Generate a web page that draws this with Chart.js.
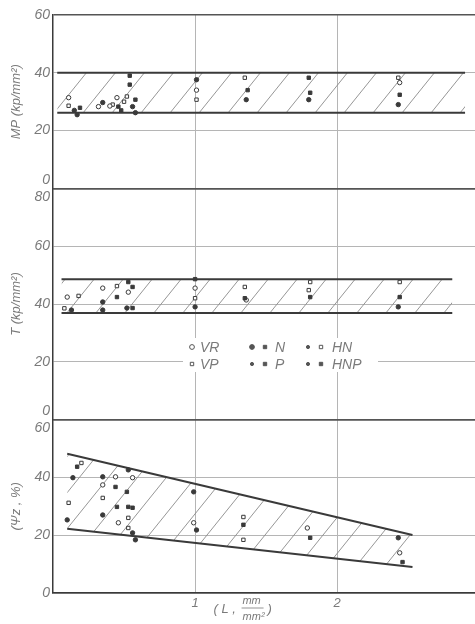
<!DOCTYPE html>
<html>
<head>
<meta charset="utf-8">
<script src="https://cdn.jsdelivr.net/npm/chart.js@4.4.0/dist/chart.umd.min.js"></script>
<style>
  html, body { margin: 0; padding: 0; background: #fff; }
</style>
</head>
<body>
<canvas id="chart" width="475" height="624"></canvas>
<script>
// shared x axis: L (mm/mm2)
const xTicks = [1, 2];

// MP panel: band limits
const mpBandX = [0.03, 2.9];
const mpUpper = [40, 40];
const mpLower = [26.2, 26.2];
// MP points [L, MP]
const mpDot = [[0.17, 25.5], [0.58, 26.2], [0.56, 28.3], [1.01, 37.6], [1.36, 30.7], [1.8, 30.7], [2.43, 29], [0.35, 29.7], [0.15, 27]];
const mpSquare = [[0.19, 27.9], [0.54, 39], [0.54, 35.9], [0.46, 28.3], [1.37, 34], [1.81, 33.1], [2.44, 32.4], [0.58, 30.7], [1.8, 38.3], [0.48, 27]];
const mpRing = [[0.11, 31.4], [0.45, 31.4], [0.32, 28.3], [1.01, 34], [2.44, 36.6], [0.4, 28.5]];
const mpBox = [[0.11, 28.6], [0.5, 30], [1.01, 30.7], [1.35, 38.3], [2.43, 38.3], [0.42, 29], [0.52, 31.8]];

// T panel: band limits
const tBandX = [0.06, 2.81];
const tUpper = [48.6, 48.6];
const tLower = [36.9, 36.9];
// T points [L, T]
const tDot = [[0.13, 37.9], [0.35, 40.7], [0.52, 38.6], [1.0, 39], [2.43, 39], [0.35, 37.9]];
const tSquare = [[0.56, 38.6], [0.53, 47.6], [0.45, 42.4], [1.35, 42], [1.81, 42.4], [2.44, 42.4], [0.56, 45.9], [1.0, 48.6]];
const tRing = [[0.1, 42.4], [0.35, 45.5], [1.0, 45.5], [1.36, 41.4], [0.53, 44.1]];
const tBox = [[0.18, 42.8], [0.45, 46.2], [1.0, 42], [1.35, 45.9], [1.81, 47.6], [2.44, 47.6], [1.8, 44.8], [0.08, 38.5]];

// Psi panel: band limits
const psiBandX = [0.1, 2.53];
const psiUpper = [48.2, 20.1];
const psiLower = [22.2, 9.0];
// Psi points [L, Psi]
const psiDot = [[0.1, 25.3], [0.14, 39.9], [0.35, 40.2], [0.35, 27], [0.58, 18.4], [0.99, 35], [0.53, 42.6], [1.01, 21.8], [2.43, 19.1], [0.56, 20.8]];
const psiSquare = [[0.17, 43.7], [0.44, 36.7], [0.52, 35], [0.53, 29.8], [1.34, 23.6], [1.81, 19.1], [2.46, 10.7], [0.56, 29.5], [0.45, 29.8]];
const psiRing = [[0.56, 39.9], [0.44, 40.2], [0.46, 24.3], [0.99, 24.3], [1.79, 22.5], [2.44, 13.9], [0.35, 37.4]];
const psiBox = [[0.11, 31.2], [0.35, 32.9], [0.53, 26], [0.53, 22.5], [1.34, 26.3], [1.34, 18.4], [0.2, 45]];

// legend entries
const legendRows = [
  [{ marks: ['ring'], label: 'VR' }, { marks: ['dot', 'square'], label: 'N' }, { marks: ['smalldot', 'box'], label: 'HN' }],
  [{ marks: ['box'], label: 'VP' }, { marks: ['smalldot', 'square'], label: 'P' }, { marks: ['smalldot', 'square'], label: 'HNP' }]
];

const ink = '#3a3a3a';
const textGray = '#7a7a7a';
const fontFam = '"Liberation Sans", Arial, sans-serif';

// diagonal hatch pattern
function hatch() {
  const w = 29, h = 36;
  const c = document.createElement('canvas');
  c.width = w; c.height = h;
  const g = c.getContext('2d');
  g.strokeStyle = '#8a8a8a';
  g.lineWidth = 0.9;
  for (const off of [-w, 0, w]) {
    g.beginPath();
    g.moveTo(off, h);
    g.lineTo(off + w, 0);
    g.stroke();
  }
  return g.createPattern(c, 'repeat');
}
const pattern = hatch();

const pts = (arr) => arr.map(p => ({ x: p[0], y: p[1] }));
const band = (xs, ys) => xs.map((x, i) => ({ x: x, y: ys[i] }));

function bandSets(axis, xs, lower, upper) {
  return [
    { type: 'line', data: band(xs, lower), yAxisID: axis, borderColor: ink, borderWidth: 2, pointRadius: 0, fill: false, order: 2 },
    { type: 'line', data: band(xs, upper), yAxisID: axis, borderColor: ink, borderWidth: 2, pointRadius: 0, fill: '-1', backgroundColor: pattern, order: 2 }
  ];
}

function pointSets(axis, dot, square, ring, box) {
  return [
    { data: pts(dot), yAxisID: axis, pointStyle: 'circle', pointRadius: 2.2, backgroundColor: ink, borderColor: ink, borderWidth: 1, order: 1 },
    { data: pts(square), yAxisID: axis, pointStyle: 'rect', pointRadius: 2.4, backgroundColor: ink, borderColor: ink, borderWidth: 1, order: 1 },
    { data: pts(ring), yAxisID: axis, pointStyle: 'circle', pointRadius: 2.2, backgroundColor: '#fff', borderColor: ink, borderWidth: 1, order: 1 },
    { data: pts(box), yAxisID: axis, pointStyle: 'rect', pointRadius: 2.4, backgroundColor: '#fff', borderColor: ink, borderWidth: 1, order: 1 }
  ];
}

const datasets = [].concat(
  bandSets('yMP', mpBandX, mpLower, mpUpper),
  bandSets('yT', tBandX, tLower, tUpper),
  bandSets('yPsi', psiBandX, psiLower, psiUpper),
  pointSets('yMP', mpDot, mpSquare, mpRing, mpBox),
  pointSets('yT', tDot, tSquare, tRing, tBox),
  pointSets('yPsi', psiDot, psiSquare, psiRing, psiBox)
);

const tickFont = { family: fontFam, size: 14, style: 'italic' };
const titleFont = { family: fontFam, size: 13, style: 'italic' };

function noPad(s) {
  s.paddingTop = 0; s.paddingBottom = 0; s.paddingLeft = 0; s.paddingRight = 0;
}

function yAxis(max, title, labelFn, weight) {
  return {
    type: 'linear',
    position: 'left',
    stack: 'panels',
    stackWeight: weight,
    min: 0,
    max: max,
    border: { color: ink, width: 1.5 },
    grid: {
      drawTicks: false,
      color: (c) => (c.tick && (c.tick.value === 0 || c.tick.value === max)) ? '#555' : '#b5b5b5',
      lineWidth: (c) => (c.tick && (c.tick.value === 0 || c.tick.value === max)) ? 1.4 : 1
    },
    ticks: { stepSize: 20, autoSkip: false, padding: 3, color: textGray, font: tickFont, callback: labelFn },
    title: { display: true, text: title, color: textGray, font: titleFont, padding: { top: 9, bottom: 0 } },
    afterFit: (s) => { s.width = 53; noPad(s); }
  };
}

// custom legend and x-axis caption
const extras = {
  id: 'extras',
  afterDatasetsDraw(chart) {
    const ctx = chart.ctx;
    ctx.save();
    ctx.fillStyle = '#fff';
    ctx.fillRect(183, 338, 195, 34);
    const colX = [[192, 200], [252, 275], [308, 332]];
    const rowY = [347, 364];
    ctx.font = 'italic 14px ' + fontFam;
    ctx.textBaseline = 'middle';
    legendRows.forEach((row, r) => {
      row.forEach((item, c) => {
        let mx = colX[c][0];
        item.marks.forEach((m) => {
          const opts = {
            pointStyle: (m === 'square' || m === 'box') ? 'rect' : 'circle',
            radius: m === 'smalldot' ? 1.6 : 2.4,
            borderWidth: 1
          };
          ctx.fillStyle = (m === 'ring' || m === 'box') ? '#fff' : '#555';
          ctx.strokeStyle = '#555';
          Chart.helpers.drawPoint(ctx, opts, mx, rowY[r]);
          mx += 13;
        });
        ctx.fillStyle = textGray;
        ctx.textAlign = 'left';
        ctx.fillText(item.label, colX[c][1], rowY[r] + 1);
      });
    });
    ctx.restore();
  },
  afterDraw(chart) {
    const ctx = chart.ctx;
    const xs = chart.scales.x;
    const x0 = xs.getPixelForValue(1.13);
    ctx.save();
    ctx.fillStyle = textGray;
    ctx.strokeStyle = textGray;
    ctx.textBaseline = 'middle';
    ctx.textAlign = 'left';
    ctx.font = 'italic 13px ' + fontFam;
    ctx.fillText('( L ,', x0, 609);
    ctx.font = 'italic 11px ' + fontFam;
    ctx.textAlign = 'center';
    ctx.fillText('mm', x0 + 38, 601);
    ctx.fillText('mm²', x0 + 40, 617);
    ctx.lineWidth = 0.8;
    ctx.beginPath();
    ctx.moveTo(x0 + 28, 608);
    ctx.lineTo(x0 + 50, 608);
    ctx.stroke();
    ctx.font = 'italic 13px ' + fontFam;
    ctx.textAlign = 'left';
    ctx.fillText(')', x0 + 54, 609);
    ctx.restore();
  }
};

new Chart(document.getElementById('chart'), {
  type: 'scatter',
  data: { datasets: datasets },
  options: {
    responsive: false,
    animation: false,
    layout: { autoPadding: false, padding: { top: 15, left: 0, right: 0, bottom: 0 } },
    plugins: { legend: { display: false }, tooltip: { enabled: false } },
    scales: {
      x: {
        type: 'linear',
        min: 0,
        max: 2.97,
        border: { color: ink, width: 1.5 },
        grid: {
          drawTicks: false,
          lineWidth: 1,
          color: (c) => (c.tick && xTicks.includes(c.tick.value)) ? '#b5b5b5' : 'rgba(0,0,0,0)'
        },
        ticks: {
          stepSize: 1,
          includeBounds: false,
          padding: 3,
          color: textGray,
          font: { family: fontFam, size: 13, style: 'italic' },
          callback: (v) => xTicks.includes(v) ? String(v) : ''
        },
        afterFit: (s) => { s.height = 31; noPad(s); }
      },
      // stacked panels: first listed sits at the bottom
      yPsi: yAxis(60, '(Ψz , %)', (v) => v === 60 ? ['', '60'] : String(v), 60),
      yT: yAxis(80, 'T (kp/mm²)', (v) => v === 0 ? ['0', ''] : (v === 80 ? ['', '80'] : String(v)), 80),
      yMP: yAxis(60, 'MP (kp/mm²)', (v) => v === 0 ? ['0', ''] : String(v), 60)
    }
  },
  plugins: [extras]
});
</script>
</body>
</html>
